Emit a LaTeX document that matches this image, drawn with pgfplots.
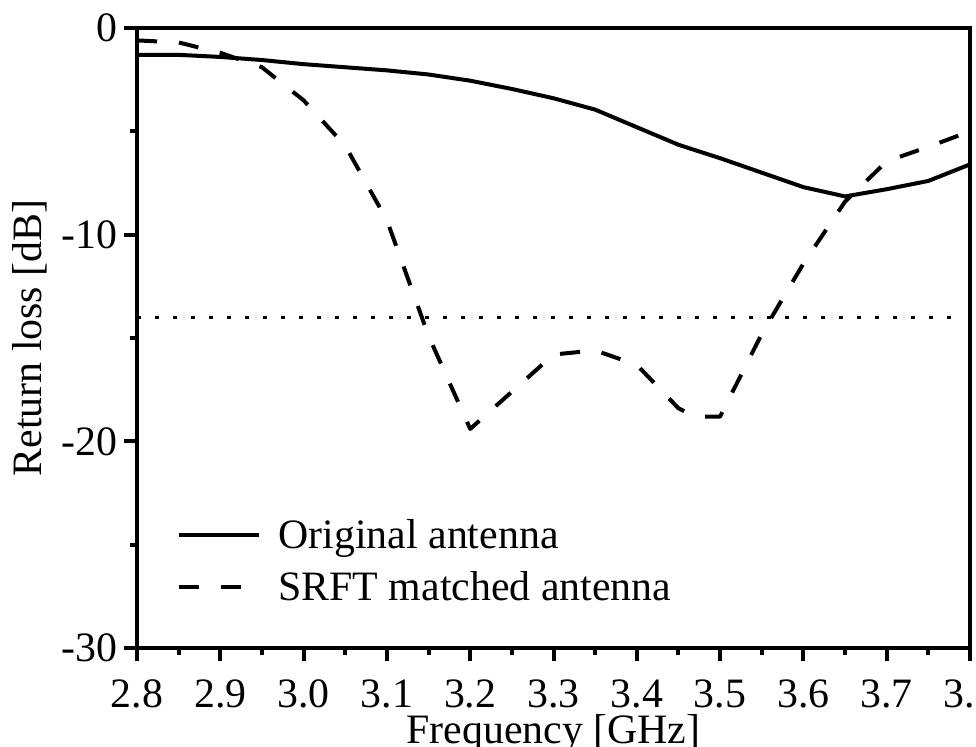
\documentclass[border=0pt]{standalone}
\usepackage{pgfplots}
\pgfplotsset{compat=1.18}
\usepackage{fontspec}
\setmainfont{Liberation Serif}

\newcommand{\chartfont}{\fontsize{21}{25}\selectfont}

\begin{document}
\begin{tikzpicture}
\begin{axis}[
    scale only axis,
    width=416.5bp, height=310bp,
    xmin=2.8, xmax=3.8,
    ymin=-30, ymax=0,
    xtick={2.8,2.9,3.0,3.1,3.2,3.3,3.4,3.5,3.6,3.7,3.8},
    xticklabels={2.8,2.9,3.0,3.1,3.2,3.3,3.4,3.5,3.6,3.7,3.8},
    ytick={-30,-20,-10,0},
    yticklabels={-30,-20,-10,0},
    minor x tick num=1,
    minor y tick num=1,
    xtick pos=left, ytick pos=left,
    tick align=outside,
    major tick length=6.5bp,
    minor tick length=3.5bp,
    axis line style={line width=2bp},
    every tick/.style={line width=2bp, black},
    tick label style={font=\chartfont},
    xticklabel shift=6bp,
    label style={font=\chartfont},
    xlabel={Frequency [GHz]},
    xlabel style={at={(axis description cs:0.5,0)}, anchor=base,
        yshift=-47.5bp},
    ylabel={Return loss [dB]},
    legend style={draw=none, fill=none, font=\chartfont,
        at={(0.047,0.215)}, anchor=north west, inner sep=0pt,
        row sep=6bp},
    legend cell align=left,
    legend image code/.code={\draw[#1] (0bp,0bp) -- (40bp,0bp);},
]
\addplot[black, line width=2bp, line join=round] coordinates {
    (2.80,-1.3) (2.85,-1.3) (2.90,-1.4) (2.95,-1.55) (3.00,-1.75)
    (3.05,-1.9) (3.10,-2.05) (3.15,-2.25) (3.20,-2.55) (3.25,-2.95)
    (3.30,-3.4) (3.35,-3.95) (3.40,-4.8) (3.45,-5.65) (3.50,-6.3)
    (3.55,-7.0) (3.60,-7.7) (3.65,-8.15) (3.70,-7.8) (3.75,-7.4)
    (3.80,-6.6)
};
\addlegendentry{\hspace{7bp}Original antenna}
\addplot[black, line width=2bp, line join=round,
    dash pattern=on 10bp off 11bp] coordinates {
    (2.80,-0.6) (2.85,-0.7) (2.90,-1.2) (2.95,-1.9) (3.00,-3.5)
    (3.05,-5.7) (3.10,-9.3) (3.15,-14.9) (3.20,-19.4) (3.25,-17.6)
    (3.30,-15.8) (3.35,-15.6) (3.40,-16.3) (3.45,-18.4) (3.47,-18.8)
    (3.50,-18.8) (3.55,-14.8) (3.60,-11.4) (3.65,-8.4) (3.70,-6.45)
    (3.75,-5.75) (3.80,-5.0)
};
\addlegendentry{\hspace{7bp}SRFT matched antenna}
\addplot[black, line width=1.6bp, dash pattern=on 2bp off 7bp, forget plot]
    coordinates {(2.8,-14) (3.79,-14)};
\end{axis}
\pgfresetboundingbox
\path ([xshift=-68.5bp,yshift=-49.5bp]current axis.south west)
    rectangle ([xshift=3bp,yshift=14bp]current axis.north east);
\end{tikzpicture}
\end{document}
